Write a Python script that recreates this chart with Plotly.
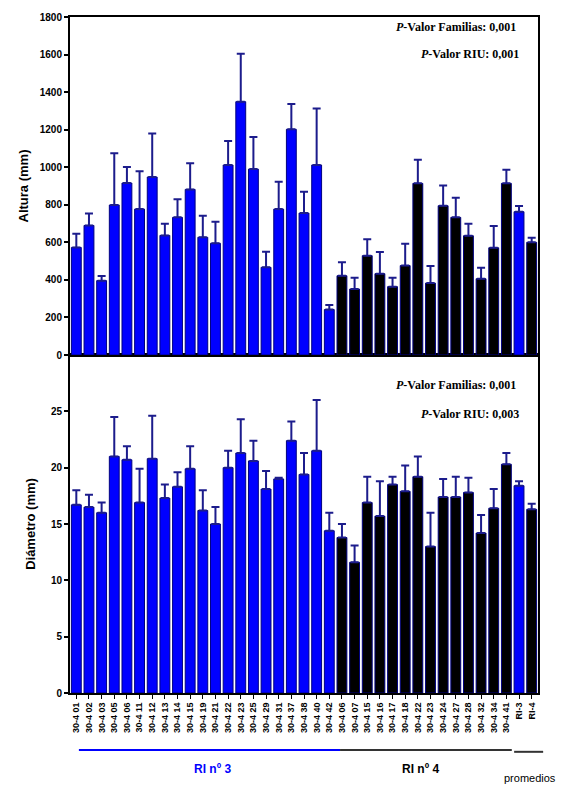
import plotly.graph_objects as go

# ---------------- data ----------------
ri3_families = ["01", "02", "03", "05", "06", "11", "12", "13", "14", "15", "19",
                "21", "22", "23", "25", "29", "31", "37", "38", "40", "42"]
ri4_families = ["06", "07", "15", "16", "17", "18", "22", "23", "24", "27",
                "28", "32", "34", "41"]
avg_labels = ["RI-3", "RI-4"]
tick_labels = ["30-4 " + f for f in ri3_families] + ["30-4 " + f for f in ri4_families] + avg_labels

# Altura (mm): mean and upper end of error bar
altura_ri3 = [573, 690, 396, 799, 916, 777, 948, 637, 733, 882, 627,
              595, 1012, 1349, 990, 467, 777, 1202, 756, 1012, 242]
altura_ri3_top = [646, 754, 421, 1074, 1001, 978, 1180, 699, 829, 1021, 742,
                  710, 1140, 1604, 1161, 550, 923, 1337, 870, 1313, 266]
altura_ri4 = [422, 351, 529, 433, 364, 476, 914, 383, 795, 733, 635, 406, 571, 914]
altura_ri4_top = [494, 412, 616, 548, 412, 593, 1040, 474, 902, 838, 699, 465, 687, 987]
altura_avg = [763, 600]
altura_avg_top = [793, 625]

# Diámetro (mm)
diam_ri3 = [16.7, 16.5, 16.0, 21.0, 20.7, 16.9, 20.8, 17.3, 18.3, 19.9, 16.2,
            15.0, 20.0, 21.3, 20.6, 18.1, 19.0, 22.4, 19.4, 21.5, 14.4]
diam_ri3_top = [18.0, 17.6, 16.9, 24.5, 21.9, 19.9, 24.6, 18.5, 19.6, 21.9, 18.0,
                16.5, 21.5, 24.3, 22.4, 19.7, 19.1, 24.1, 21.3, 26.0, 16.0]
diam_ri4 = [13.8, 11.6, 16.9, 15.7, 18.5, 17.9, 19.2, 13.0, 17.4, 17.4, 17.8, 14.2, 16.4, 20.3]
diam_ri4_top = [15.0, 13.1, 19.2, 18.8, 19.2, 20.2, 21.0, 16.0, 19.0, 19.2, 19.1, 15.8, 18.1, 21.3]
diam_avg = [18.4, 16.3]
diam_avg_top = [18.8, 16.8]

altura_ticks = [0, 200, 400, 600, 800, 1000, 1200, 1400, 1600, 1800]
diam_ticks = [0, 5, 10, 15, 20, 25]

# ---------------- build ----------------
BLUE = "#0000ff"
BLACK = "#000000"
ERR = "#1c1c8c"
SANS = "Liberation Sans, Arial, sans-serif"

altura = altura_ri3 + altura_ri4 + altura_avg
altura_top = altura_ri3_top + altura_ri4_top + altura_avg_top
diam = diam_ri3 + diam_ri4 + diam_avg
diam_top = diam_ri3_top + diam_ri4_top + diam_avg_top
colors = [BLUE] * len(ri3_families) + [BLACK] * len(ri4_families) + [BLUE, BLACK]
xs = list(range(len(tick_labels)))

fig = go.Figure()

fig.add_trace(go.Bar(
    x=xs, y=altura, xaxis="x2", yaxis="y2",
    marker=dict(color=colors, line=dict(color="#000080", width=1)),
    error_y=dict(type="data", symmetric=False,
                 array=[t - v for t, v in zip(altura_top, altura)],
                 arrayminus=[0] * len(altura),
                 color=ERR, thickness=2, width=4),
    width=0.78, showlegend=False, hoverinfo="y"))

fig.add_trace(go.Bar(
    x=xs, y=diam, xaxis="x", yaxis="y",
    marker=dict(color=colors, line=dict(color="#000080", width=1)),
    error_y=dict(type="data", symmetric=False,
                 array=[round(t - v, 3) for t, v in zip(diam_top, diam)],
                 arrayminus=[0] * len(diam),
                 color=ERR, thickness=2, width=4),
    width=0.78, showlegend=False, hoverinfo="y"))

axis_font = dict(family=SANS, size=10, color="black")

fig.update_layout(
    width=566, height=787,
    margin=dict(l=70, r=28, t=17, b=94),
    plot_bgcolor="white", paper_bgcolor="white",
    font=dict(family=SANS, color="black"),
    bargap=0.2,
    xaxis=dict(domain=[0, 1], anchor="y", range=[-0.5, len(xs) - 0.5],
               tickmode="array", tickvals=xs,
               ticktext=["<b>" + t + "</b>" for t in tick_labels],
               tickangle=-90, tickfont=dict(family=SANS, size=9, color="black"),
               ticks="outside", ticklen=4, tickwidth=1, tickcolor="black",
               showline=True, linecolor="black", linewidth=2, mirror=True,
               showgrid=False, zeroline=False),
    xaxis2=dict(domain=[0, 1], anchor="y2", matches="x", range=[-0.5, len(xs) - 0.5],
                showticklabels=False, ticks="",
                showline=True, linecolor="black", linewidth=2, mirror=True,
                showgrid=False, zeroline=False),
    yaxis=dict(domain=[0, 0.5], anchor="x", range=[0, 30],
               tickmode="array", tickvals=diam_ticks,
               ticktext=["<b>" + str(v) + "</b>" for v in diam_ticks],
               tickfont=axis_font, ticks="outside", ticklen=4, tickwidth=1.5,
               tickcolor="black",
               showline=True, linecolor="black", linewidth=2, mirror=True,
               showgrid=False, zeroline=False,
               title=dict(text="<b>Diámetro (mm)</b>", standoff=12,
                          font=dict(family=SANS, size=13))),
    yaxis2=dict(domain=[0.5, 1], anchor="x2", range=[0, 1800],
                tickmode="array", tickvals=altura_ticks,
                ticktext=["<b>" + str(v) + "</b>" for v in altura_ticks],
                tickfont=axis_font, ticks="outside", ticklen=4, tickwidth=1.5,
                tickcolor="black",
                showline=True, linecolor="black", linewidth=2, mirror=True,
                showgrid=False, zeroline=False,
                title=dict(text="<b>Altura (mm)</b>", standoff=8,
                           font=dict(family=SANS, size=13))),
)

serif = dict(family="Liberation Serif, Times New Roman, serif", size=12, color="black")
ann = [
    dict(text="<b><i>P</i>-Valor Familias: 0,001</b>", x=0.958, y=0.985, xanchor="right", yanchor="middle"),
    dict(text="<b><i>P</i>-Valor RIU: 0,001</b>", x=0.963, y=0.945, xanchor="right", yanchor="middle"),
    dict(text="<b><i>P</i>-Valor Familias: 0,001</b>", x=0.958, y=0.455, xanchor="right", yanchor="middle"),
    dict(text="<b><i>P</i>-Valor RIU: 0,003</b>", x=0.963, y=0.413, xanchor="right", yanchor="middle"),
]
for a in ann:
    fig.add_annotation(xref="paper", yref="paper", showarrow=False, font=serif, **a)

fig.add_annotation(xref="paper", yref="paper", x=0.305, y=-0.112, text="<b>RI nº 3</b>",
                   showarrow=False, xanchor="center", yanchor="middle",
                   font=dict(family=SANS, size=12, color=BLUE))
fig.add_annotation(xref="paper", yref="paper", x=0.748, y=-0.112, text="<b>RI nº 4</b>",
                   showarrow=False, xanchor="center", yanchor="middle",
                   font=dict(family=SANS, size=12, color="black"))
fig.add_annotation(xref="paper", yref="paper", x=0.983, y=-0.126, text="promedios",
                   showarrow=False, xanchor="center", yanchor="middle",
                   font=dict(family=SANS, size=11, color="black"))

fig.add_shape(type="line", xref="paper", yref="paper", x0=0.019, x1=0.577, y0=-0.0843, y1=-0.0843,
              line=dict(color=BLUE, width=2))
fig.add_shape(type="line", xref="paper", yref="paper", x0=0.577, x1=0.944, y0=-0.0843, y1=-0.0843,
              line=dict(color="#333333", width=2))
fig.add_shape(type="line", xref="paper", yref="paper", x0=0.949, x1=1.011, y0=-0.087, y1=-0.087,
              line=dict(color="#333333", width=2))

fig.write_html("out.html")
